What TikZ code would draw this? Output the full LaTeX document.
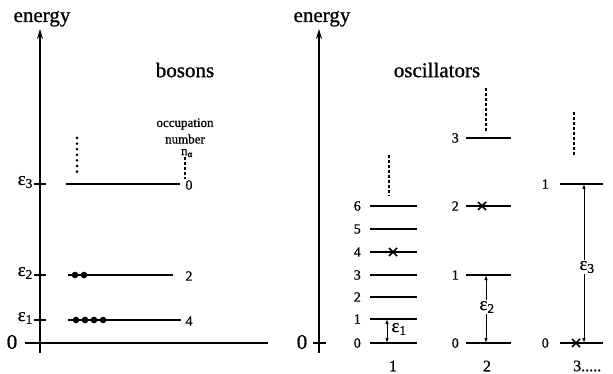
\documentclass[tikz,border=0pt]{standalone}
\usepackage{fontspec}
\setmainfont{Liberation Serif}[FakeBold=0.9]
\usetikzlibrary{arrows.meta}
\begin{document}
\begin{tikzpicture}[x=1pt,y=-1pt,
  axis/.style={line width=1.6pt,-{Stealth[length=10pt,width=6pt]}},
  axisline/.style={line width=1.6pt},
  tick/.style={line width=1.4pt},
  level/.style={line width=1.9pt},
  big/.style={font=\fontsize{21}{24}\selectfont, inner sep=0pt},
  eps/.style={font=\fontsize{19}{22}\selectfont, inner sep=0pt},
  lab/.style={font=\fontsize{14}{16}\selectfont, inner sep=0pt},
  small/.style={font=\fontsize{13}{15}\selectfont, inner sep=0pt},
  bot/.style={font=\fontsize{16}{18}\selectfont, inner sep=0pt},
  dotline/.style={line width=3pt, line cap=round, dash pattern=on 0pt off 5.6pt},
  dashline/.style={line width=1.3pt, dash pattern=on 3pt off 2pt},
  earrow/.style={line width=1pt,{Latex[length=5pt,width=3.5pt]}-{Latex[length=5pt,width=3.5pt]}},
  crs/.style={line width=1.6pt}
]
\useasboundingbox (0,0) rectangle (613,374);

% ---------------- left panel: bosons ----------------
\node[big, anchor=base] (en1) at (42,22) {energy};
\coordinate (ax1b) at (40,353);
\coordinate (ax1t) at (40,29);
\draw[axis] (ax1b) -- (ax1t);
\coordinate (h1a) at (25,343);
\coordinate (h1b) at (268,343);
\draw[axisline] (h1a) -- (h1b);
\node[big] (z1) at (12,342) {0};

\foreach \i/\y in {3/184,2/275,1/320}{
  \coordinate (tk\i a) at (34,\y);
  \coordinate (tk\i b) at (46,\y);
  \draw[tick] (tk\i a) -- (tk\i b);
  \node[eps, anchor=east] (e\i) at (33,\y-2) {ε\textsubscript{\i}};
}

\node[big] (bos) at (185,70) {bosons};
\node[small] (occ) at (185,124) {occupation};
\node[small] (num) at (185,139) {number};
\node[small] (na) at (187,153) {n\textsubscript{α}};
\coordinate (nad) at (185,179);
\draw[dashline] (na.south -| nad) -- (nad);

% levels
\coordinate (b3a) at (66,184); \coordinate (b3b) at (180,184);
\draw[level] (b3a) -- (b3b);
\node[lab] (n3) at (189,185) {0};
\coordinate (b2a) at (68,275); \coordinate (b2b) at (173,275);
\draw[level] (b2a) -- (b2b);
\node[lab] (n2) at (189,276) {2};
\coordinate (b1a) at (68,320); \coordinate (b1b) at (181,320);
\draw[level] (b1a) -- (b1b);
\node[lab] (n1) at (189,321) {4};

\foreach \x in {75,84}{\fill (\x,275) circle (3.3);}
\foreach \x in {76,85,94,103}{\fill (\x,320) circle (3.3);}

\coordinate (bd1) at (77,138);
\coordinate (bd2) at (77,176);
\draw[dotline] (bd1) -- (bd2);

% ---------------- right panel: oscillators ----------------
\node[big, anchor=base] (en2) at (322,22) {energy};
\coordinate (ax2b) at (319,353);
\coordinate (ax2t) at (319,29);
\draw[axis] (ax2b) -- (ax2t);
\coordinate (tk0a) at (313,343);
\coordinate (tk0b) at (326,343);
\draw[tick] (tk0a) -- (tk0b);
\node[big] (z2) at (302,342) {0};

\node[big] (osc) at (437,70) {oscillators};

% oscillator 1
\foreach \n/\y in {0/343,1/319,2/297,3/275,4/252,5/229,6/206}{
  \coordinate (pa\n) at (370,\y);
  \coordinate (pb\n) at (417,\y);
  \draw[level] (pa\n) -- (pb\n);
  \node[lab, anchor=east] (pl\n) at (361,\y) {\n};
}
\coordinate (pd1) at (389,155); \coordinate (pd2) at (389,196);
\draw[dashline] (pd1) -- (pd2);
\draw[crs] (389,248) -- (397,256) (389,256) -- (397,248);
\coordinate (pe0) at (387,343); \coordinate (pe1) at (387,319);
\draw[earrow] (pe0) -- (pe1);
\node[eps] (pe) at (399,329) {ε\textsubscript{1}};

% oscillator 2
\foreach \n/\y in {0/343,1/275,2/206,3/138}{
  \coordinate (qa\n) at (466,\y);
  \coordinate (qb\n) at (511,\y);
  \draw[level] (qa\n) -- (qb\n);
  \node[lab, anchor=east] (ql\n) at (459,\y) {\n};
}
\coordinate (qd1) at (486,88); \coordinate (qd2) at (486,131);
\draw[dashline] (qd1) -- (qd2);
\draw[crs] (478,202) -- (486,210) (478,210) -- (486,202);
\coordinate (qe0) at (486,343); \coordinate (qe1) at (486,275);
\draw[earrow] (qe0) -- (qe1);
\node[eps, fill=white, inner sep=1pt] (qe) at (487,307) {ε\textsubscript{2}};

% oscillator 3
\foreach \n/\y in {0/343,1/184}{
  \coordinate (ra\n) at (560,\y);
  \coordinate (rb\n) at (603,\y);
  \draw[level] (ra\n) -- (rb\n);
  \node[lab, anchor=east] (rl\n) at (549,\y) {\n};
}
\coordinate (rd1) at (574,112); \coordinate (rd2) at (574,155);
\draw[dashline] (rd1) -- (rd2);
\draw[crs] (572,339) -- (580,347) (572,347) -- (580,339);
\coordinate (re0) at (584,343); \coordinate (re1) at (584,184);
\draw[earrow] (re0) -- (re1);
\node[eps, fill=white, inner sep=1pt] (re) at (587,267) {ε\textsubscript{3}};

% bottom labels
\node[bot] (c1) at (393,366) {1};
\node[bot] (c2) at (487,366) {2};
\node[bot, anchor=west] (c3) at (573,366) {3.....};
\end{tikzpicture}
\end{document}
